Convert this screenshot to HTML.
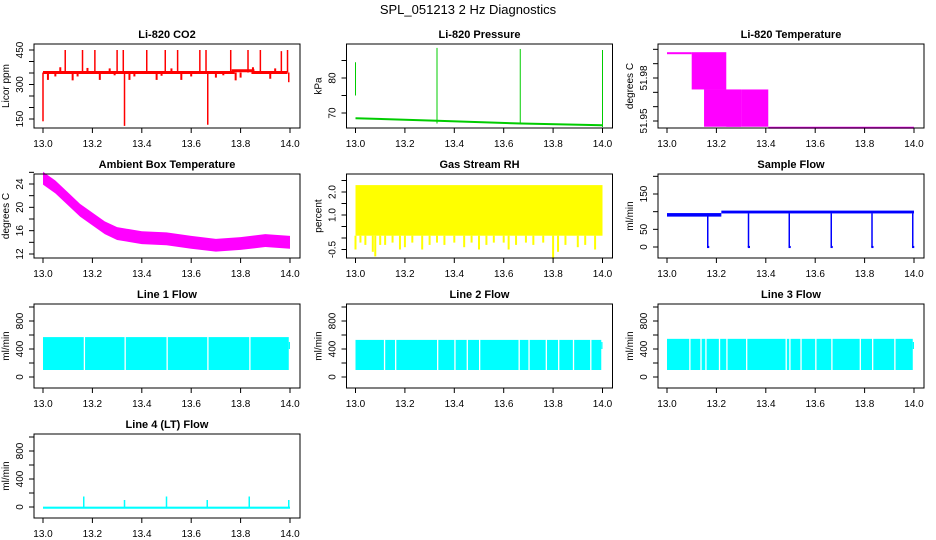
<!DOCTYPE html>
<html><head><meta charset="utf-8"><style>
html,body{margin:0;padding:0;background:#fff}
svg{display:block;font-family:"Liberation Sans",Arial,sans-serif}
</style></head><body>
<svg id="chart" width="936" height="540" viewBox="0 0 936 540" xmlns="http://www.w3.org/2000/svg">
<text x="468" y="14" text-anchor="middle" font-size="13">SPL_051213  2 Hz Diagnostics</text>
</svg>
<script>
// ---- data ----
var xTicks=[13.0,13.2,13.4,13.6,13.8,14.0];
var co2Base=[[13.0,352],[13.77,352],[13.77,360],[13.85,360],[13.85,352],[13.99,352]];
var co2SpikeX=[13.0,13.09,13.16,13.21,13.30,13.325,13.33,13.42,13.495,13.545,13.635,13.66,13.667,13.76,13.83,13.88,13.965,13.99,13.995];
var co2SpikeV=[140,450,450,450,450,450,120,450,450,450,450,450,125,450,450,450,445,450,310];
var co2BumpX=[13.02,13.05,13.07,13.12,13.14,13.18,13.23,13.27,13.29,13.35,13.37,13.46,13.48,13.52,13.56,13.6,13.7,13.73,13.78,13.8,13.85,13.92,13.94];
var co2BumpV=[320,335,375,318,335,372,320,370,340,320,335,320,338,370,320,335,330,340,318,330,375,325,370];
var presBaseX=[13.0,13.33,13.67,14.0];
var presBaseV=[68.5,67.8,67.0,66.5];
var presSpikeX=[13.0,13.33,13.667,14.0];
var presSpikeLo=[75,67,67,66];
var presSpikeHi=[84.5,88.6,88.3,88];
var tempX0=[13.0,13.1,13.15,13.24,13.3,13.41];
var tempX1=[13.1,13.24,13.3,13.3,13.41,14.0];
var tempLo=[51.998,51.972,51.946,51.946,51.946,51.946];
var tempHi=[51.998,51.998,51.972,51.972,51.972,51.946];
var ambX=[13.0,13.05,13.1,13.15,13.2,13.25,13.3,13.4,13.5,13.6,13.7,13.8,13.9,14.0];
var ambV=[25,23.5,21.5,19.5,18,16.5,15.5,14.8,14.6,14.0,13.5,13.8,14.3,14.0];
var rhLo=0.1, rhHi=2.3;
var rhDipX=[13.0,13.02,13.04,13.07,13.08,13.1,13.12,13.15,13.18,13.2,13.23,13.27,13.3,13.33,13.36,13.4,13.44,13.47,13.5,13.53,13.56,13.6,13.62,13.65,13.69,13.72,13.76,13.8,13.82,13.85,13.9,13.93,13.97];
var rhDipV=[-0.5,-0.2,-0.3,-0.6,-0.8,-0.3,-0.3,-0.2,-0.5,-0.4,-0.2,-0.5,-0.3,-0.2,-0.3,-0.2,-0.4,-0.2,-0.5,-0.3,-0.2,-0.2,-0.5,-0.3,-0.2,-0.3,-0.2,-0.9,-0.6,-0.3,-0.4,-0.3,-0.5];
var sfX0=[13.0,13.22],sfX1=[13.22,14.0],sfLo=[86,95],sfHi=[96,103];
var sfDropX=[13.165,13.33,13.495,13.665,13.83,13.995];
var l1Lo=100,l1Hi=570,l1Gaps=[13.165,13.33,13.5,13.665,13.835];
var l2Lo=100,l2Hi=530,l2Gaps=[13.115,13.16,13.33,13.4,13.45,13.5,13.66,13.7,13.77,13.82,13.88,13.95];
var l3Lo=100,l3Hi=545,l3Gaps=[13.09,13.135,13.155,13.21,13.24,13.32,13.48,13.495,13.54,13.6,13.665,13.78,13.83,13.92];
var l4SpikeX=[13.165,13.33,13.5,13.665,13.835,13.995];
var l4SpikeV=[150,100,150,100,150,100];

var NS="http://www.w3.org/2000/svg", svg=document.getElementById('chart');
function mk(tag,attrs,parent){var e=document.createElementNS(NS,tag);for(var k in attrs)e.setAttribute(k,attrs[k]);(parent||svg).appendChild(e);return e;}
var colX13=[43,355.5,667], rowTop=[44,174,304,434];
function panel(r,c,title,ylab,v1,p1,v2,p2,ticks,labels,name){
  var g=mk('g',{});
  
  
  var x13=colX13[c],top=rowTop[r],bot=top+84,L=x13-9,R=x13+257;
  var sx=function(v){return x13+(v-13)*247;};
  var k=(p2-p1)/(v2-v1);
  var sy=function(v){return rowTop[r]+(p1-44)+(v-v1)*k;};
  var t=mk('text',{x:(L+R)/2,y:top-6,'text-anchor':'middle','font-size':'11','font-weight':'bold'},g);t.textContent=title;
  
  
  var plot=mk('g',{},g);
  var box=mk('rect',{x:L,y:top,width:R-L,height:84,fill:'none',stroke:'#000','stroke-width':1},g);
  
  
  xTicks.forEach(function(v){var X=sx(v);mk('line',{x1:X,x2:X,y1:bot,y2:bot+5,stroke:'#000'},g);
    var tt=mk('text',{x:X,y:bot+19,'text-anchor':'middle','font-size':'10'},g);tt.textContent=v.toFixed(1);
    
    });
  ticks.forEach(function(v){var Y=sy(v);mk('line',{x1:L-5,x2:L,y1:Y,y2:Y,stroke:'#000'},g);});
  labels.forEach(function(v){var Y=sy(v);var tt=mk('text',{x:L-11,y:Y,'text-anchor':'middle','font-size':'10',transform:'rotate(-90 '+(L-11)+' '+Y+')'},g);tt.textContent=String(v);
    
    });
  var yt=mk('text',{x:L-25,y:(top+bot)/2,'text-anchor':'middle','font-size':'10',transform:'rotate(-90 '+(L-25)+' '+((top+bot)/2)+')'},g);yt.textContent=ylab;
  
  
  return {sx:sx,sy:sy,g:plot};
}
function vline(P,x,a,b,col,w){mk('line',{x1:P.sx(x),x2:P.sx(x),y1:P.sy(a),y2:P.sy(b),stroke:col,'stroke-width':w||1},P.g);}
function band(P,x0,x1,lo,hi,col){var y1=P.sy(hi),y2=P.sy(lo);mk('rect',{x:P.sx(x0),y:Math.min(y1,y2),width:P.sx(x1)-P.sx(x0),height:Math.max(2,Math.abs(y2-y1)),fill:col},P.g);}

// CO2
var P=panel(0,0,'Li-820 CO2','Licor ppm',450,50,150,119,[150,200,250,300,350,400,450],['150','300','450'],'co2');
co2BumpX.forEach(function(x,i){vline(P,x,352,co2BumpV[i],'red',2);});
mk('polyline',{points:co2Base.map(function(d){return P.sx(d[0])+','+P.sy(d[1]);}).join(' '),fill:'none',stroke:'red','stroke-width':3},P.g);
co2SpikeX.forEach(function(x,i){vline(P,x,352,co2SpikeV[i],'red',1.5);});
// Pressure
P=panel(0,1,'Li-820 Pressure','kPa',80,78,70,113,[70,75,80,85],['70','80'],'pressure');
mk('polyline',{points:presBaseX.map(function(x,i){return P.sx(x)+','+P.sy(presBaseV[i]);}).join(' '),fill:'none',stroke:'#00cc00','stroke-width':2},P.g);
presSpikeX.forEach(function(x,i){vline(P,x,presSpikeLo[i],presSpikeHi[i],'#00cc00',1);});
// Temperature
P=panel(0,2,'Li-820 Temperature','degrees C',51.98,78,51.95,121,[51.95,51.96,51.97,51.98,51.99,52.0],['51.95','51.98'],'li820-temp');
tempX0.forEach(function(x,i){band(P,x,tempX1[i],tempLo[i],tempHi[i],'magenta');});
// Ambient
P=panel(1,0,'Ambient Box Temperature','degrees C',24,184-130,12,254-130,[12,14,16,18,20,22,24,26],['12','16','20','24'],'ambient-temp');
mk('polygon',{points:ambX.map(function(x,i){return P.sx(x)+','+P.sy(ambV[i]+1.1);}).concat(ambX.slice().reverse().map(function(x,i){var j=ambX.length-1-i;return P.sx(x)+','+P.sy(ambV[j]-1.1);})).join(' '),fill:'magenta'},P.g);
// RH
P=panel(1,1,'Gas Stream RH','percent',2.0,192-130,1.0,215-130,[-0.5,0,0.5,1,1.5,2,2.5],['-0.5','1.0','2.0'],'rh');
band(P,13.0,14.0,rhLo,rhHi,'yellow');
rhDipX.forEach(function(x,i){vline(P,x,rhLo,rhDipV[i],'yellow',2);});
// Sample flow
P=panel(1,2,'Sample Flow','ml/min',150,194-130,0,247-130,[0,50,100,150,200],['0','50','150'],'sample-flow');
sfX0.forEach(function(x,i){band(P,x,sfX1[i],sfLo[i],sfHi[i],'blue');});
sfDropX.forEach(function(x){vline(P,x,95,0,'blue',1.5);band(P,x-0.003,x+0.006,-3,3,'blue');});
// Line flows
function flow(r,c,title,lo,hi,gaps,name){
  var P=panel(r,c,title,'ml/min',0,377-260,800,321-260,[0,200,400,600,800,1000],['0','400','800'],name);
  band(P,13.0,13.995,lo,hi,'cyan');
  gaps.forEach(function(x){mk('rect',{x:P.sx(x),y:P.sy(hi+5),width:1.3,height:P.sy(lo-5)-P.sy(hi+5),fill:'#fff'},P.g);});
  band(P,13.995,14.0,400,500,'cyan');
  return P;
}
flow(2,0,'Line 1 Flow',l1Lo,l1Hi,l1Gaps,'line1-flow');
flow(2,1,'Line 2 Flow',l2Lo,l2Hi,l2Gaps,'line2-flow');
flow(2,2,'Line 3 Flow',l3Lo,l3Hi,l3Gaps,'line3-flow');
P=panel(3,0,'Line 4 (LT) Flow','ml/min',0,377-260,800,321-260,[0,200,400,600,800,1000],['0','400','800'],'line4-flow');
band(P,13.0,14.0,-25,5,'cyan');
l4SpikeX.forEach(function(x,i){vline(P,x,0,l4SpikeV[i],'cyan',1.5);});
</script>
</body></html>
